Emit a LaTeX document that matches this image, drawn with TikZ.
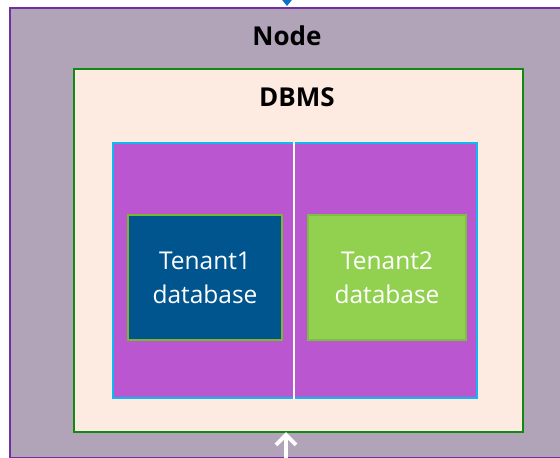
\documentclass[tikz,border=0pt]{standalone}
\usepackage{fontspec}
\setmainfont{Open Sans}
\usetikzlibrary{arrows.meta}
\definecolor{nodefill}{HTML}{B1A4B9}
\definecolor{nodeedge}{HTML}{7030A0}
\definecolor{dbmsfill}{HTML}{FDEAE0}
\definecolor{dbmsedge}{HTML}{108A10}
\definecolor{poolfill}{HTML}{B956D0}
\definecolor{pooledge}{HTML}{10B8F0}
\definecolor{tenantAfill}{HTML}{00558F}
\definecolor{tenantAedge}{HTML}{7CB82F}
\definecolor{tenantBfill}{HTML}{92D050}
\definecolor{tenantBedge}{HTML}{7CC040}
\definecolor{inarrow}{HTML}{0A70C8}
\tikzset{
  box/.style={draw, rectangle, inner sep=0pt, anchor=north west},
  title/.style={font=\bfseries\fontsize{26}{30}\selectfont, text=black},
  tenant/.style={box, line width=2pt},
  tenantlbl/.style={text=white, align=center, font=\fontsize{24.5}{34}\selectfont}
}
\begin{document}
\begin{tikzpicture}[x=1pt, y=-1pt]
  \useasboundingbox (0,0) rectangle (560,458);
  \clip (0,0) rectangle (560,458);
  % outer machine
  \node[box, fill=nodefill, draw=nodeedge, line width=2pt,
        minimum width=570pt, minimum height=450pt] (node) at (9,7) {};
  \node[title] (nodelbl) at (287,36) {Node};
  % database server
  \node[box, fill=dbmsfill, draw=dbmsedge, line width=2pt,
        minimum width=449pt, minimum height=363pt] (dbms) at (73,68) {};
  \node[title] (dbmslbl) at (297,97) {DBMS};
  % shared pool split in two halves
  \node[box, fill=poolfill, draw=pooledge, line width=2pt,
        minimum width=364pt, minimum height=255pt] (pool) at (112,142) {};
  \draw[white, line width=1.5pt] (pool.north -| 294,0) -- (pool.south -| 294,0);
  % tenant databases
  \node[tenant, fill=tenantAfill, draw=tenantAedge,
        minimum width=154pt, minimum height=125pt] (t1) at (127,214) {};
  \node[tenantlbl] (t1lbl) at (t1.center) {Tenant1\\database};
  \node[tenant, fill=tenantBfill, draw=tenantBedge,
        minimum width=158pt, minimum height=125pt] (t2) at (307,214) {};
  \node[tenantlbl] (t2lbl) at (t2.center) {Tenant2\\database};
  % incoming and outgoing arrows
  \coordinate (topsrc) at (287,-20);
  \coordinate (toptip) at (287,6);
  \draw[inarrow, line width=1.5pt, -{Triangle[length=7pt, width=11pt]}] (topsrc) -- (toptip);
  \coordinate (botsrc) at (286,470);
  \coordinate (bottip) at (286,432);
  \draw[white, line width=4pt, -{Straight Barb[length=10pt, width=20pt, line width=4pt]}] (botsrc) -- (bottip);
\end{tikzpicture}
\end{document}
